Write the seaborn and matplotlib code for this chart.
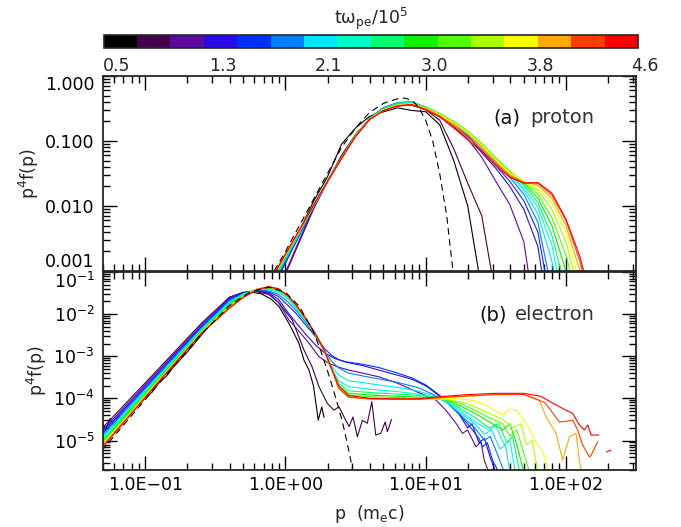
import numpy as np
import pandas as pd
import matplotlib
matplotlib.use("Agg")
import matplotlib.pyplot as plt
import matplotlib.ticker as mticker
from matplotlib.colors import ListedColormap
import seaborn as sns

# ---------------------------------------------------------------- data
# simulation output times, t*omega_pe / 1e5
times = [0.50, 0.77, 1.05, 1.32, 1.59, 1.87, 2.14, 2.41,
         2.69, 2.96, 3.23, 3.51, 3.78, 4.05, 4.33, 4.60]
colors = ["#000000", "#420048", "#5C0AA0", "#2A0AE6", "#0030FF", "#0080FF",
          "#00E6FF", "#00FFC8", "#00FF6E", "#10F000", "#50FF00", "#AAFF00",
          "#FFFF00", "#FFA800", "#FF3C00", "#FF0000"]
cbar_labels = ["0.5", "1.3", "2.1", "3.0", "3.8", "4.6"]

nan = float("nan")

# proton spectra: log10 p (m_e c) grid and log10 p^4 f(p), one row per time
proton_logp = [-0.1, 0.0, 0.1, 0.2, 0.3, 0.4, 0.5, 0.6, 0.7, 0.8, 0.9, 1.0,
               1.1, 1.2, 1.3, 1.4, 1.5, 1.6, 1.7, 1.8, 1.9, 2.0, 2.1, 2.2]
proton_logf = [
    [-3.15, -2.80, -2.38, -1.93, -1.55, -1.05, -0.80, -0.62, -0.55, -0.49, -0.53, -0.55, -0.75, -1.30, -2.00, -3.30, nan, nan, nan, nan, nan, nan, nan, nan],
    [-3.60, -3.05, -2.55, -2.05, -1.62, -1.22, -0.90, -0.66, -0.52, -0.46, -0.45, -0.52, -0.68, -1.12, -1.65, -2.15, -3.40, nan, nan, nan, nan, nan, nan, nan],
    [-3.55, -3.02, -2.52, -2.03, -1.62, -1.24, -0.91, -0.66, -0.51, -0.44, -0.43, -0.50, -0.62, -0.78, -0.97, -1.25, -1.62, -1.98, -2.55, -4.00, nan, nan, nan, nan],
    [-3.30, -2.88, -2.45, -2.03, -1.63, -1.26, -0.92, -0.65, -0.49, -0.42, -0.41, -0.48, -0.59, -0.74, -0.92, -1.18, -1.42, -1.70, -2.05, -2.62, -4.00, nan, nan, nan],
    [-3.28, -2.86, -2.44, -2.02, -1.63, -1.26, -0.92, -0.65, -0.49, -0.41, -0.40, -0.48, -0.59, -0.73, -0.90, -1.15, -1.38, -1.62, -1.92, -2.40, -3.60, nan, nan, nan],
    [-3.25, -2.84, -2.43, -2.01, -1.62, -1.26, -0.92, -0.65, -0.49, -0.41, -0.40, -0.48, -0.59, -0.73, -0.89, -1.10, -1.33, -1.56, -1.82, -2.25, -3.30, nan, nan, nan],
    [-3.22, -2.82, -2.42, -2.01, -1.62, -1.26, -0.92, -0.66, -0.50, -0.42, -0.40, -0.48, -0.59, -0.72, -0.88, -1.08, -1.30, -1.52, -1.76, -2.12, -2.85, -4.00, nan, nan],
    [-3.20, -2.80, -2.41, -2.00, -1.62, -1.26, -0.92, -0.66, -0.50, -0.42, -0.41, -0.48, -0.58, -0.71, -0.87, -1.06, -1.28, -1.50, -1.72, -2.02, -2.60, -3.70, nan, nan],
    [-3.18, -2.79, -2.40, -2.00, -1.62, -1.26, -0.92, -0.66, -0.51, -0.43, -0.41, -0.48, -0.58, -0.71, -0.86, -1.05, -1.27, -1.48, -1.68, -1.95, -2.45, -3.30, nan, nan],
    [-3.17, -2.78, -2.39, -2.00, -1.62, -1.26, -0.92, -0.66, -0.51, -0.43, -0.42, -0.48, -0.58, -0.70, -0.85, -1.04, -1.26, -1.47, -1.65, -1.88, -2.30, -3.00, -4.00, nan],
    [-3.16, -2.77, -2.39, -2.00, -1.62, -1.26, -0.92, -0.66, -0.52, -0.44, -0.42, -0.49, -0.58, -0.70, -0.85, -1.04, -1.26, -1.47, -1.63, -1.82, -2.18, -2.75, -3.60, nan],
    [-3.15, -2.76, -2.38, -1.99, -1.62, -1.26, -0.92, -0.66, -0.52, -0.44, -0.43, -0.49, -0.59, -0.71, -0.86, -1.05, -1.27, -1.48, -1.62, -1.76, -2.05, -2.55, -3.40, nan],
    [-3.14, -2.75, -2.38, -1.99, -1.62, -1.27, -0.93, -0.67, -0.52, -0.45, -0.43, -0.50, -0.60, -0.72, -0.87, -1.07, -1.29, -1.50, -1.62, -1.72, -1.95, -2.40, -3.20, nan],
    [-3.13, -2.75, -2.37, -1.99, -1.62, -1.27, -0.93, -0.67, -0.53, -0.45, -0.44, -0.50, -0.61, -0.74, -0.90, -1.10, -1.32, -1.52, -1.63, -1.68, -1.88, -2.30, -3.00, -4.00],
    [-3.12, -2.74, -2.37, -1.99, -1.62, -1.27, -0.93, -0.67, -0.53, -0.46, -0.44, -0.51, -0.62, -0.77, -0.94, -1.13, -1.35, -1.54, -1.64, -1.65, -1.83, -2.22, -2.85, -3.70],
    [-3.12, -2.74, -2.37, -1.99, -1.62, -1.27, -0.93, -0.67, -0.53, -0.46, -0.44, -0.52, -0.63, -0.80, -0.98, -1.17, -1.38, -1.56, -1.65, -1.64, -1.80, -2.20, -2.78, -3.60],
]
proton_maxw_logp = [-0.08, 0.0, 0.1, 0.2, 0.3, 0.4, 0.5, 0.6, 0.7, 0.8, 0.85,
                    0.9, 0.95, 1.0, 1.05, 1.1, 1.15, 1.2]
proton_maxw_logf = [-3.00, -2.70, -2.30, -1.90, -1.50, -1.10, -0.80, -0.56,
                    -0.42, -0.35, -0.34, -0.37, -0.48, -0.68, -1.00, -1.50,
                    -2.15, -3.10]

# electron spectra: per-time knots of log10 p and log10 p^4 f(p)
e_front = [-1.31, -0.9, -0.6, -0.4, -0.3, -0.2, -0.12, -0.05, 0.02, 0.08,
           0.15, 0.22, 0.28, 0.33, 0.38, 0.45]
electron_logp = [
    [-1.31, -1.28, -1.25, -1.22, -1.19, -1.16, -1.12, -1.08, -1.04, -1.0, -0.95, -0.9, -0.85, -0.8, -0.7, -0.6, -0.5, -0.4, -0.32, -0.24, -0.17, -0.1, -0.046, 0.025, 0.096, 0.132, 0.168, 0.20, 0.234, 0.259, 0.275],
    [-1.31, -0.9, -0.6, -0.4, -0.3, -0.22, -0.12, -0.05, 0.049, 0.132, 0.19, 0.239, 0.299, 0.346, 0.382, 0.418, 0.454, 0.482, 0.513, 0.549, 0.584, 0.616, 0.644, 0.68, 0.711, 0.727, 0.756],
    [-1.31, -0.9, -0.6, -0.4, -0.3, -0.2, -0.12, -0.05, 0.025, 0.1, 0.168, 0.239, 0.31, 0.38, 0.454, 0.55, 0.668, 0.8, 0.906, 1.0, 1.073, 1.144, 1.216, 1.263, 1.299, 1.359, 1.394, 1.418, 1.45],
    [-1.31, -0.9, -0.6, -0.4, -0.3, -0.2, -0.12, -0.05, 0.02, 0.08, 0.15, 0.22, 0.28, 0.35, 0.43, 0.55, 0.668, 0.8, 0.906, 1.0, 1.049, 1.144, 1.239, 1.30, 1.33, 1.38, 1.42, 1.46, 1.5],
    [-1.31, -0.9, -0.6, -0.4, -0.3, -0.2, -0.12, -0.05, 0.02, 0.08, 0.15, 0.22, 0.28, 0.33, 0.38, 0.43, 0.55, 0.668, 0.8, 0.906, 1.0, 1.049, 1.144, 1.239, 1.334, 1.38, 1.406, 1.44, 1.477, 1.52],
    e_front + [0.6, 0.8, 0.95, 1.05, 1.15, 1.25, 1.35, 1.42, 1.46, 1.52, 1.56],
    e_front + [0.6, 0.8, 0.95, 1.05, 1.15, 1.25, 1.35, 1.42, 1.47, 1.53, 1.57, 1.6],
    e_front + [0.6, 0.8, 0.95, 1.05, 1.15, 1.25, 1.35, 1.45, 1.50, 1.56, 1.60, 1.64],
    e_front + [0.6, 0.8, 0.95, 1.05, 1.15, 1.25, 1.35, 1.45, 1.52, 1.58, 1.62, 1.67],
    e_front + [0.6, 0.8, 0.95, 1.05, 1.15, 1.25, 1.35, 1.45, 1.55, 1.60, 1.65, 1.70],
    e_front + [0.6, 0.8, 0.95, 1.05, 1.15, 1.25, 1.35, 1.45, 1.55, 1.60, 1.65, 1.70, 1.74],
    e_front + [0.6, 0.8, 0.95, 1.05, 1.15, 1.25, 1.35, 1.45, 1.55, 1.62, 1.68, 1.72, 1.76, 1.80],
    e_front + [0.6, 0.8, 0.95, 1.05, 1.2, 1.35, 1.45, 1.55, 1.60, 1.65, 1.72, 1.78, 1.84, 1.88],
    e_front + [0.6, 0.8, 0.95, 1.1, 1.3, 1.5, 1.62, 1.72, 1.81, 1.859, 1.93, 1.977, 2.025, 2.072, 2.096, 2.11],
    e_front + [0.6, 0.8, 0.95, 1.1, 1.3, 1.5, 1.7, 1.85, 1.954, 2.049, 2.084, 2.12, 2.168, 2.18, 2.227],
    e_front + [0.6, 0.8, 0.95, 1.1, 1.3, 1.5, 1.7, 1.82, 1.9, 1.954, 2.049, 2.096, 2.132, 2.156, 2.18, 2.234, nan, 2.29, 2.32],
]
electron_logf = [
    [-4.55, -4.72, -4.48, -4.64, -4.42, -4.52, -4.30, -4.22, -4.12, -3.98, -3.85, -3.62, -3.48, -3.26, -2.90, -2.50, -2.10, -1.75, -1.58, -1.48, -1.52, -1.65, -1.82, -2.22, -2.69, -3.09, -3.33, -3.70, -4.52, -4.20, -4.45],
    [-4.72, -3.28, -2.22, -1.60, -1.49, -1.46, -1.53, -1.72, -2.14, -2.85, -3.25, -3.72, -4.12, -4.28, -4.20, -4.44, -4.67, -4.44, -4.91, -4.52, -4.59, -4.08, -4.87, -4.83, -4.56, -4.79, -4.50],
    [-4.78, -3.32, -2.26, -1.60, -1.48, -1.45, -1.51, -1.72, -2.14, -2.42, -2.69, -3.01, -3.17, -3.26, -3.33, -3.40, -3.49, -3.64, -3.80, -3.93, -4.04, -4.28, -4.59, -4.83, -4.75, -5.15, -5.03, -5.47, -5.75],
    [-4.82, -3.36, -2.29, -1.63, -1.49, -1.44, -1.49, -1.65, -1.97, -2.22, -2.50, -2.75, -2.92, -3.05, -3.14, -3.22, -3.33, -3.45, -3.55, -3.70, -3.82, -4.06, -4.38, -4.70, -4.60, -5.05, -4.95, -5.40, -5.75],
    [-4.86, -3.39, -2.32, -1.66, -1.50, -1.43, -1.47, -1.58, -1.80, -2.00, -2.28, -2.55, -2.82, -2.98, -3.08, -3.13, -3.19, -3.27, -3.40, -3.52, -3.68, -3.80, -4.04, -4.36, -4.75, -4.95, -5.15, -5.05, -5.47, -5.75],
    [-4.90, -3.42, -2.34, -1.69, -1.51, -1.42, -1.45, -1.53, -1.72, -1.93, -2.22, -2.55, -2.88, -3.12, -3.28, -3.40,
     -3.50, -3.62, -3.75, -3.90, -4.10, -4.40, -4.70, -5.00, -4.90, -5.40, -5.75],
    [-4.94, -3.45, -2.36, -1.72, -1.52, -1.41, -1.42, -1.48, -1.65, -1.88, -2.18, -2.52, -2.90, -3.25, -3.45, -3.58,
     -3.65, -3.74, -3.83, -3.93, -4.10, -4.35, -4.60, -4.85, -4.75, -5.20, -5.10, -5.75],
    [-4.98, -3.47, -2.38, -1.74, -1.53, -1.41, -1.40, -1.45, -1.61, -1.85, -2.16, -2.51, -2.90, -3.30, -3.58, -3.72,
     -3.78, -3.84, -3.90, -3.96, -4.08, -4.30, -4.55, -4.75, -4.65, -5.10, -5.00, -5.75],
    [-5.02, -3.50, -2.40, -1.76, -1.54, -1.40, -1.39, -1.43, -1.59, -1.83, -2.15, -2.51, -2.89, -3.32, -3.65, -3.82,
     -3.86, -3.90, -3.93, -3.97, -4.05, -4.25, -4.45, -4.70, -4.60, -5.05, -4.90, -5.75],
    [-5.05, -3.52, -2.41, -1.78, -1.55, -1.40, -1.38, -1.42, -1.58, -1.82, -2.14, -2.51, -2.89, -3.32, -3.70, -3.88,
     -3.92, -3.95, -3.97, -3.99, -4.03, -4.18, -4.35, -4.55, -4.75, -4.60, -5.10, -5.75],
    [-5.08, -3.54, -2.42, -1.80, -1.56, -1.40, -1.37, -1.41, -1.57, -1.81, -2.13, -2.51, -2.88, -3.31, -3.72, -3.92,
     -3.96, -3.98, -3.99, -4.01, -4.03, -4.12, -4.28, -4.45, -4.60, -4.90, -4.75, -5.30, -5.75],
    [-5.11, -3.56, -2.43, -1.82, -1.57, -1.40, -1.36, -1.40, -1.57, -1.81, -2.13, -2.51, -2.88, -3.30, -3.74, -3.95,
     -3.99, -4.01, -4.02, -4.02, -4.03, -4.08, -4.20, -4.35, -4.50, -4.70, -4.60, -5.10, -5.00, -5.75],
    [-5.13, -3.57, -2.44, -1.83, -1.58, -1.41, -1.36, -1.40, -1.57, -1.80, -2.13, -2.51, -2.88, -3.30, -3.75, -3.96,
     -4.01, -4.02, -4.02, -4.01, -4.00, -4.05, -4.20, -4.40, -4.25, -4.30, -4.60, -5.00, -5.30, -5.75],
    [-5.15, -3.58, -2.45, -1.84, -1.59, -1.41, -1.35, -1.40, -1.57, -1.80, -2.13, -2.51, -2.88, -3.30, -3.76, -3.97,
     -4.01, -4.02, -4.02, -3.99, -3.95, -3.91, -3.89, -3.92, -4.04, -4.44, -4.83, -5.47, -4.91, -4.83, -5.47, -5.75],
    [-5.17, -3.59, -2.46, -1.85, -1.60, -1.42, -1.35, -1.40, -1.57, -1.80, -2.13, -2.51, -2.88, -3.30, -3.76, -3.97,
     -4.01, -4.02, -4.02, -3.98, -3.94, -3.91, -3.91, -4.10, -4.56, -4.52, -4.75, -5.11, -5.39, -5.35, -5.03],
    [-5.18, -3.60, -2.46, -1.86, -1.60, -1.42, -1.35, -1.40, -1.57, -1.80, -2.13, -2.50, -2.88, -3.30, -3.70, -3.93,
     -4.00, -4.01, -4.01, -3.96, -3.91, -3.88, -3.88, -3.95, -4.10, -4.20, -4.36, -4.63, -4.75, -4.63, -4.87, -4.87, nan, -5.27, -5.23],
]
electron_maxw_logp = [-1.31, -0.9, -0.6, -0.4, -0.25, -0.12, 0.0, 0.1, 0.2,
                      0.25, 0.31, 0.36, 0.406, 0.44, 0.466, 0.49]
electron_maxw_logf = [-5.24, -3.64, -2.48, -1.80, -1.47, -1.36, -1.48, -1.82,
                      -2.42, -2.85, -3.45, -4.00, -4.55, -5.05, -5.47, -5.85]


def spectra_table(logp_rows, logf_rows):
    """Long-form table of the spectra; NaN knots split a curve into pieces."""
    rows = []
    for t, lp, lf in zip(times, logp_rows, logf_rows):
        piece = 0
        for x, y in zip(lp, lf):
            if np.isnan(x) or np.isnan(y):
                piece += 1
                continue
            rows.append((10.0 ** x, 10.0 ** y, t, f"{t:.2f}-{piece}"))
    return pd.DataFrame(rows, columns=["p", "f", "t", "piece"])


proton_df = spectra_table([proton_logp] * len(times), proton_logf)
electron_df = spectra_table(electron_logp, electron_logf)
palette = dict(zip(times, colors))

# ---------------------------------------------------------------- style
sns.set_style("ticks")
plt.rcParams["font.family"] = ["DejaVu Sans"]
plt.rcParams["mathtext.default"] = "regular"
plt.rcParams["axes.linewidth"] = 1.3

FS = 12.5
LW = 0.8
fig = plt.figure(figsize=(6.81, 5.27), dpi=100, facecolor="white")

cax = fig.add_axes([0.1521, 0.9080, 0.7847, 0.0256])
ax1 = fig.add_axes([0.1512, 0.4858, 0.7827, 0.3700])
ax2 = fig.add_axes([0.1512, 0.1082, 0.7827, 0.3757])

for ax in (ax1, ax2):
    ax.set_xscale("log")
    ax.set_yscale("log")

# ---------------------------------------------------------------- curves
line_kw = dict(x="p", y="f", hue="t", units="piece", estimator=None,
               sort=False, palette=palette, legend=False, linewidth=LW)
sns.lineplot(data=proton_df, ax=ax1, **line_kw)
sns.lineplot(x=10.0 ** np.array(proton_maxw_logp),
             y=10.0 ** np.array(proton_maxw_logf), sort=False,
             color="black", linewidth=LW, linestyle=(0, (6, 4)), ax=ax1)

sns.lineplot(data=electron_df, ax=ax2, **line_kw)
sns.lineplot(x=10.0 ** np.array(electron_maxw_logp),
             y=10.0 ** np.array(electron_maxw_logf), sort=False,
             color="black", linewidth=LW, linestyle=(0, (6, 4)), ax=ax2)

# ---------------------------------------------------------------- axes
for ax in (ax1, ax2):
    ax.set_xlim(0.05, 316)
    ax.xaxis.set_major_locator(mticker.FixedLocator([0.1, 1, 10, 100]))
    ax.xaxis.set_minor_locator(mticker.LogLocator(base=10, subs=np.arange(2, 10), numticks=50))
    ax.yaxis.set_minor_locator(mticker.LogLocator(base=10, subs=np.arange(2, 10), numticks=50))
    ax.tick_params(which="both", direction="in", top=True, right=True,
                   width=1.0, labelsize=FS, colors="black")
    ax.tick_params(which="major", length=10)
    ax.tick_params(which="minor", length=5)
    ax.tick_params(axis="y", which="major", pad=6)
    ax.tick_params(axis="x", which="major", pad=4)
    ax.set_xlabel("")
    ax.set_ylabel("p$^4$f(p)", fontsize=FS)
    for s in ax.spines.values():
        s.set_visible(True)
        s.set_linewidth(1.3)

ax1.set_ylim(0.001, 1.0)
ax1.yaxis.set_major_locator(mticker.FixedLocator([0.001, 0.01, 0.1, 1.0]))
ax1.yaxis.set_major_formatter(mticker.FixedFormatter(["0.001", "0.010", "0.100", "1.000"]))
ax1.tick_params(labelbottom=False)
ax1.yaxis.set_label_coords(-0.117, 0.5)

ax2.set_ylim(2e-6, 0.1)
ax2.yaxis.set_major_locator(mticker.FixedLocator([1e-5, 1e-4, 1e-3, 1e-2, 1e-1]))
ax2.yaxis.set_major_formatter(mticker.FixedFormatter(
    ["10$^{-5}$", "10$^{-4}$", "10$^{-3}$", "10$^{-2}$", "10$^{-1}$"]))
ax2.xaxis.set_major_formatter(mticker.FixedFormatter(
    ["1.0E\u221201", "1.0E+00", "1.0E+01", "1.0E+02"]))
ax2.yaxis.set_label_coords(-0.101, 0.5)
ax2.set_xlabel("p  (m$_e$c)", fontsize=FS, labelpad=7)

# keep the labels at the shared panel edge from running into each other
top_ticks = ax1.yaxis.get_major_ticks()
top_ticks[0].label1.set_verticalalignment("bottom")
top_ticks[-1].label1.set_verticalalignment("top")
ax2.yaxis.get_major_ticks()[-1].label1.set_verticalalignment("top")

ax1.text(0.732, 0.785, "(a)", transform=ax1.transAxes, fontsize=14,
         va="center", ha="left", color="#111111")
ax1.text(0.801, 0.785, "proton", transform=ax1.transAxes, fontsize=14,
         va="center", ha="left", color="#333333")
ax2.text(0.707, 0.783, "(b)", transform=ax2.transAxes, fontsize=14,
         va="center", ha="left", color="#111111")
ax2.text(0.773, 0.783, "electron", transform=ax2.transAxes, fontsize=14,
         va="center", ha="left", color="#333333")

# ---------------------------------------------------------------- colour bar
cb = matplotlib.colorbar.ColorbarBase(cax, cmap=ListedColormap(colors),
                                      orientation="horizontal")
cb.set_ticks([])
cb.outline.set_linewidth(1.2)
label_pos = [0.025, 0.2238, 0.4204, 0.6186, 0.8169, 1.0135]
for x, lab in zip(label_pos, cbar_labels):
    cax.text(x, -1.30, lab, transform=cax.transAxes, ha="center",
             va="center", fontsize=FS)
cax.text(0.5, 2.2, "t\u03c9$_{pe}$/10$^5$", transform=cax.transAxes,
         ha="center", va="center", fontsize=FS)

fig.savefig("out.png", dpi=100, facecolor="white")
